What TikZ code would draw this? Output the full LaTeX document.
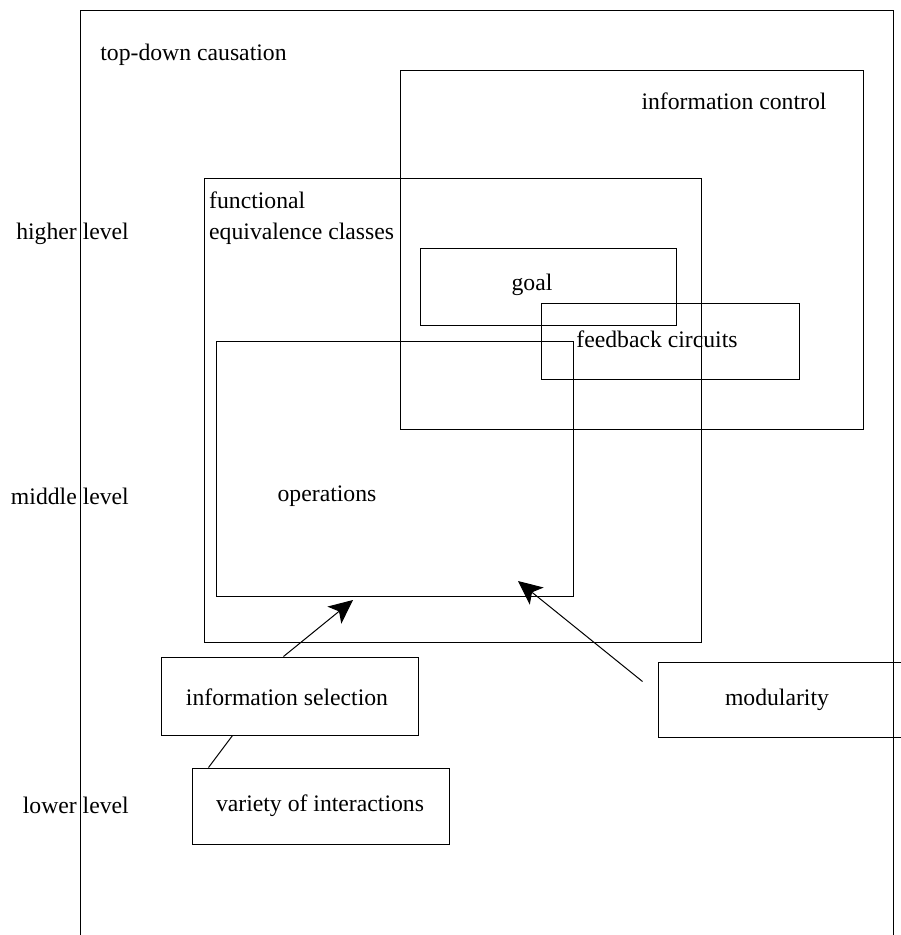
\documentclass[tikz,border=0pt]{standalone}
\usepackage{fontspec}
\setmainfont{Liberation Serif}
\usetikzlibrary{arrows.meta,calc}
\begin{document}
\begin{tikzpicture}[x=1pt,y=-1pt,
  box/.style={draw,line width=1pt,inner sep=0pt},
  lbl/.style={inner sep=0pt,font=\fontsize{23.7}{28}\selectfont},
  conn/.style={line width=1pt},
  arr/.style={line width=1pt,-{Stealth[length=24pt,width=22pt,inset=6pt]}}]
\useasboundingbox (0,0) rectangle (901,935);
\clip (0,0) rectangle (901,935);
% outer frame (open at bottom)
\coordinate (obl) at (80,940);
\coordinate (otl) at (80,10);
\coordinate (otr) at (893,10);
\coordinate (obr) at (893,940);
\draw[conn] (obl) -- (otl) -- (otr) -- (obr);
% boxes
\node[box,minimum width=463pt,minimum height=359pt] (ctrl) at (631.5,249.5) {};
\node[box,minimum width=497pt,minimum height=464pt] (feq) at (452.5,410) {};
\node[box,minimum width=256pt,minimum height=77pt] (goal) at (548,286.5) {};
\node[box,minimum width=258pt,minimum height=76pt] (fb) at (670,341) {};
\node[box,minimum width=357pt,minimum height=255pt] (ops) at (394.5,468.5) {};
\node[box,minimum width=257pt,minimum height=78pt] (sel) at (289.5,696) {};
\node[box,minimum width=270pt,minimum height=75pt] (mod) at (793,699.5) {};
\node[box,minimum width=257pt,minimum height=76pt] (var) at (320.5,806) {};
% texts
\node[lbl] (ttd) at (193.5,55) {top-down causation};
\node[lbl] (tctrl) at (734,101) {information control};
\node[lbl,anchor=base west] (tfun) at (209,208) {functional};
\node[lbl,anchor=base west] (teq) at (209,239) {equivalence classes};
\node[lbl] (tgoal) at (532,285) {goal};
\node[lbl] (tfb) at (657,339) {feedback circuits};
\node[lbl] (tops) at (327,496) {operations};
\node[lbl] (tsel) at (287,697) {information selection};
\node[lbl] (tmod) at (777,700) {modularity};
\node[lbl] (tvar) at (320,806) {variety of interactions};
\node[lbl,anchor=base east] (lhi) at (129,239) {higher level};
\node[lbl,anchor=base east] (lmid) at (129,504) {middle level};
\node[lbl,anchor=base east] (llo) at (129,813) {lower level};
% connectors
\coordinate (a1) at (353,600);
\coordinate (a2) at (518,581);
\draw[arr] ($(sel.north)+(-6,0)$) -- (a1);
\draw[arr] ($(mod.west)+(-15,-18)$) -- (a2);
\draw[conn] ($(sel.south)+(-57,0)$) -- ($(var.north)+(-112,0)$);
\end{tikzpicture}
\end{document}
